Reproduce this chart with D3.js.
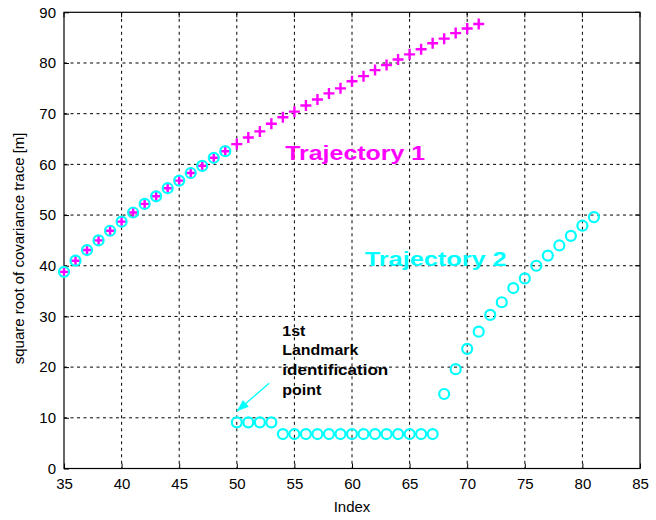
<!DOCTYPE html>
<html>
<head>
<meta charset="utf-8">
<script src="https://cdn.jsdelivr.net/npm/d3@7"></script>
<style>
  html, body { margin: 0; padding: 0; background: #fff; }
  svg { display: block; }
  text { font-family: Arial, "Liberation Sans", Helvetica, sans-serif; }
</style>
</head>
<body>
<svg id="chart" width="656" height="520"></svg>
<script>
// Trajectory 1: covariance growth without landmarks (indices 35..71)
const traj1Index = d3.range(35, 72);
const traj1Values = [
  38.8, 41.0, 43.1, 45.0, 46.9, 48.7, 50.5, 52.2, 53.7, 55.3,
  56.8, 58.3, 59.7, 61.3, 62.6, 64.0, 65.3, 66.5, 68.0, 69.3,
  70.4, 71.6, 72.8, 74.0, 75.0, 76.4, 77.4, 78.6, 79.6, 80.7,
  81.7, 82.7, 83.9, 84.8, 85.9, 86.8, 87.7
];

// Trajectory 2: landmark identified at index 50 (indices 35..81)
const traj2Index = d3.range(35, 82);
const traj2Values = [
  38.8, 41.0, 43.1, 45.0, 46.9, 48.7, 50.5, 52.2, 53.7, 55.3,
  56.8, 58.3, 59.7, 61.3, 62.6,
  9.1, 9.1, 9.1, 9.1,
  6.8, 6.8, 6.8, 6.8, 6.8, 6.8, 6.8, 6.8, 6.8, 6.8, 6.8, 6.8, 6.8, 6.8,
  14.7, 19.6, 23.6, 27.0, 30.3, 32.8, 35.6, 37.5, 40.0, 42.0,
  44.0, 45.9, 47.9, 49.6
];

const xTicks = [35, 40, 45, 50, 55, 60, 65, 70, 75, 80, 85];
const yTicks = [0, 10, 20, 30, 40, 50, 60, 70, 80, 90];

const svg = d3.select("#chart");
const plotL = 64, plotR = 640, plotT = 12.3, plotB = 468.5;

const x = d3.scaleLinear().domain([35, 85]).range([plotL, plotR]);
const y = d3.scaleLinear().domain([0, 90]).range([plotB, plotT]);

// dashed grid
const grid = svg.append("g");
grid.append("g").selectAll("line").data(xTicks.slice(1, -1)).join("line")
  .attr("x1", d => x(d)).attr("x2", d => x(d))
  .attr("y1", plotT).attr("y2", plotB)
  .attr("stroke", "#000").attr("stroke-width", 1).attr("stroke-dasharray", "3,3.5");
grid.append("g").selectAll("line").data(yTicks.slice(1, -1)).join("line")
  .attr("x1", plotL).attr("x2", plotR)
  .attr("y1", d => y(d)).attr("y2", d => y(d))
  .attr("stroke", "#000").attr("stroke-width", 1).attr("stroke-dasharray", "3,3.5");

// axes with inward ticks
const xAxis = svg.append("g").attr("transform", `translate(0,${plotB})`)
  .call(d3.axisBottom(x).tickValues(xTicks).tickSizeInner(-5).tickSizeOuter(0).tickPadding(10));
const yAxis = svg.append("g").attr("transform", `translate(${plotL},0)`)
  .call(d3.axisLeft(y).tickValues(yTicks).tickSizeInner(-5).tickSizeOuter(0).tickPadding(8));
[xAxis, yAxis].forEach(g => {
  g.select(".domain").remove();
  g.selectAll("text").attr("font-size", 15).attr("fill", "#000")
    .attr("font-family", "Arial, 'Liberation Sans', sans-serif");
});

// top/right ticks
svg.append("g").selectAll("line").data(xTicks).join("line")
  .attr("x1", d => x(d)).attr("x2", d => x(d)).attr("y1", plotT).attr("y2", plotT + 5)
  .attr("stroke", "#000");
svg.append("g").selectAll("line").data(yTicks).join("line")
  .attr("x1", plotR).attr("x2", plotR - 5).attr("y1", d => y(d)).attr("y2", d => y(d))
  .attr("stroke", "#000");

// box
svg.append("rect").attr("x", plotL).attr("y", plotT)
  .attr("width", plotR - plotL).attr("height", plotB - plotT)
  .attr("fill", "none").attr("stroke", "#000").attr("stroke-width", 1.2);

// Trajectory 1 markers (+)
const t1 = traj1Index.map((d, i) => [d, traj1Values[i]]);
const plus = 5.5;
svg.append("g").selectAll("path").data(t1).join("path")
  .attr("d", d => {
    const cx = x(d[0]), cy = y(d[1]);
    return `M${cx - plus},${cy}H${cx + plus}M${cx},${cy - plus}V${cy + plus}`;
  })
  .attr("stroke", "#ff00ff").attr("stroke-width", 2.4).attr("fill", "none");

// Trajectory 2 markers (o)
const t2 = traj2Index.map((d, i) => [d, traj2Values[i]]);
svg.append("g").selectAll("circle").data(t2).join("circle")
  .attr("cx", d => x(d[0])).attr("cy", d => y(d[1])).attr("r", 5)
  .attr("fill", "none").attr("stroke", "#00ffff").attr("stroke-width", 2.2);

// labels
svg.append("text").attr("x", x(54.2)).attr("y", y(60.8))
  .attr("font-size", 21).attr("font-weight", "bold").attr("fill", "#ff00ff")
  .attr("textLength", 140).attr("lengthAdjust", "spacingAndGlyphs")
  .text("Trajectory 1");
svg.append("text").attr("x", x(61.1)).attr("y", y(39.9))
  .attr("font-size", 21).attr("font-weight", "bold").attr("fill", "#00ffff")
  .attr("textLength", 142).attr("lengthAdjust", "spacingAndGlyphs")
  .text("Trajectory 2");

// annotation for the first landmark identification
const noteLines = ["1st", "Landmark", "identification", "point"];
const noteWidths = [23, 76, 106, 39];
const note = svg.append("text").attr("font-size", 14).attr("font-weight", "bold").attr("fill", "#000");
noteLines.forEach((t, i) => {
  note.append("tspan").attr("x", x(53.95)).attr("y", y(26.2) + i * 19.8)
    .attr("textLength", noteWidths[i]).attr("lengthAdjust", "spacingAndGlyphs").text(t);
});

// arrow pointing at index 50
const tail = [52.8, 16.8], tip = [50.0, 11.3];
const tx = x(tip[0]), ty = y(tip[1]), sx = x(tail[0]), sy = y(tail[1]);
svg.append("line").attr("x1", sx).attr("y1", sy).attr("x2", tx).attr("y2", ty)
  .attr("stroke", "#00ffff").attr("stroke-width", 1.3);
const ang = Math.atan2(ty - sy, tx - sx), hl = 12, hw = 4.5;
const bx = tx - hl * Math.cos(ang), by = ty - hl * Math.sin(ang);
svg.append("path")
  .attr("d", `M${tx},${ty}L${bx + hw * Math.sin(ang)},${by - hw * Math.cos(ang)}L${bx - hw * Math.sin(ang)},${by + hw * Math.cos(ang)}Z`)
  .attr("fill", "#00ffff");

// axis titles
svg.append("text").attr("x", (plotL + plotR) / 2).attr("y", 512)
  .attr("text-anchor", "middle").attr("font-size", 15).text("Index");
svg.append("text").attr("transform", `translate(24,${(plotT + plotB) / 2 + 8}) rotate(-90)`)
  .attr("text-anchor", "middle").attr("font-size", 15)
  .text("square root of covariance trace [m]");
</script>
</body>
</html>
